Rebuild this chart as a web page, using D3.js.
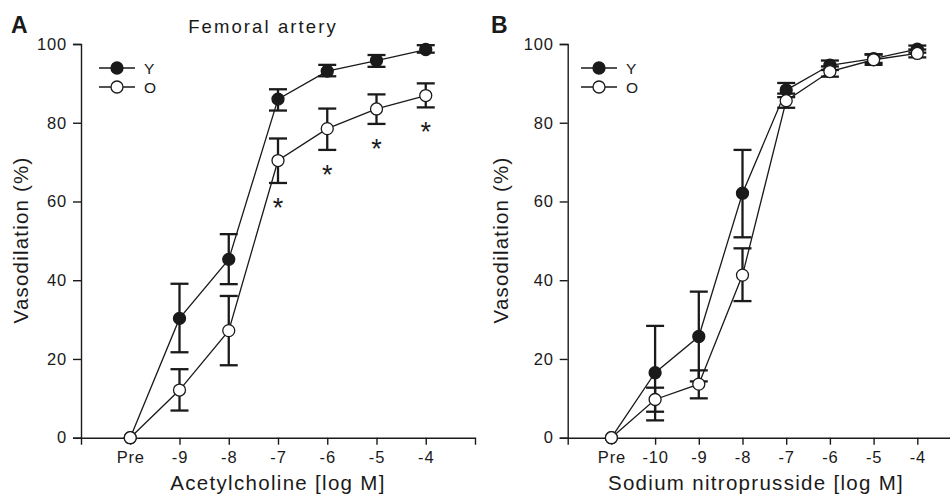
<!DOCTYPE html>
<html>
<head>
<meta charset="utf-8">
<script src="https://cdn.jsdelivr.net/npm/d3@7"></script>
<style>
  body {margin: 0; background: #fff;}
  svg {display: block; font-family: 'Liberation Sans', Arial, sans-serif;}
</style>
</head>
<body>
<script>
// Acetylcholine (panel A)
const achLabels = ['Pre', '-9', '-8', '-7', '-6', '-5', '-4']
const achYoung = [0, 30.3, 45.3, 86.0, 93.1, 95.8, 98.6]
const achYoungHi = [null, 39.1, 51.7, 88.5, 94.7, 97.2, 99.7]
const achYoungLo = [null, 21.7, 39.0, 83.1, 91.8, 94.2, 97.8]
const achOld = [0, 12.1, 27.2, 70.4, 78.5, 83.5, 86.9]
const achOldHi = [null, 17.4, 36.0, 76.0, 83.6, 87.2, 90.0]
const achOldLo = [null, 6.9, 18.4, 64.7, 73.1, 79.7, 83.9]
const achSig = [false, false, false, true, true, true, true]

// Sodium nitroprusside (panel B)
const snpLabels = ['Pre', '-10', '-9', '-8', '-7', '-6', '-5', '-4']
const snpYoung = [0, 16.5, 25.7, 62.1, 88.3, 94.6, 96.3, 98.7]
const snpYoungHi = [null, 28.4, 37.1, 73.1, 90.1, 95.8, 97.4, 99.6]
const snpYoungLo = [null, 4.4, 14.3, 50.9, 86.5, 93.4, 95.2, 97.8]
const snpOld = [0, 9.7, 13.6, 41.3, 85.6, 93.0, 96.0, 97.6]
const snpOldHi = [null, 12.7, 17.1, 48.1, 87.4, 94.3, 97.3, 98.6]
const snpOldLo = [null, 6.6, 10.0, 34.7, 83.8, 91.7, 94.7, 96.6]
const snpSig = [false, false, false, false, false, false, false, false]

const yTicks = [0, 20, 40, 60, 80, 100]
const seriesNames = ['Y', 'O']

const svg = d3.select('body').append('svg')
  .attr('width', 950).attr('height', 494)

const plotTop = 44, plotBottom = 437.7
const ink = '#1a1a1a'

function panel(o) {
  const g = svg.append('g')
  const n = o.labels.length
  const x = d3.scaleLinear().domain([-1, n]).range([o.left, o.right])
  const y = d3.scaleLinear().domain([0, 100]).range([plotBottom, plotTop])

  // axes
  g.append('g').attr('transform', `translate(0,${plotBottom})`)
    .call(d3.axisBottom(x).tickValues(d3.range(n)).tickFormat(i => o.labels[i])
      .tickSizeOuter(0).tickSize(7).tickPadding(7))
  g.append('g').attr('transform', `translate(${o.left},0)`)
    .call(d3.axisLeft(y).tickValues(yTicks).tickSizeOuter(0).tickSize(8).tickPadding(6))
  g.selectAll('.domain, .tick line').attr('stroke', ink).attr('stroke-width', 1.4)
  g.selectAll('.tick text').attr('fill', ink)
    .style('font-size', '16.5px').style('letter-spacing', '0.8px')

  // titles
  g.append('text').attr('x', o.xTitleX).attr('y', 490)
    .attr('text-anchor', 'middle').style('font-size', '20.5px').style('letter-spacing', '1.3px')
    .attr('fill', ink).text(o.xTitle)
  g.append('text').attr('transform', `translate(${o.yTitleX},240) rotate(-90)`)
    .attr('text-anchor', 'middle').style('font-size', '20.5px').style('letter-spacing', '1.2px')
    .attr('fill', ink).text('Vasodilation (%)')
  g.append('text').attr('x', o.letterX).attr('y', 33)
    .style('font-size', '23px').style('font-weight', 'bold')
    .attr('fill', ink).text(o.letter)
  if (o.title) {
    g.append('text').attr('x', o.titleX).attr('y', 33).attr('text-anchor', 'middle')
      .style('font-size', '18.5px').style('letter-spacing', '2.1px')
      .attr('fill', ink).text(o.title)
  }

  const series = [
    {v: o.young, hi: o.youngHi, lo: o.youngLo, fill: ink},
    {v: o.old, hi: o.oldHi, lo: o.oldLo, fill: '#fff'}
  ]
  const line = d3.line().x((d, i) => x(i)).y(d => y(d))

  series.forEach(s => {
    g.append('path').datum(s.v).attr('d', line)
      .attr('fill', 'none').attr('stroke', ink).attr('stroke-width', 1.3)
  })
  // error bars
  series.forEach(s => {
    const eb = g.append('g').attr('stroke', ink).attr('stroke-width', 2.3)
    s.v.forEach((d, i) => {
      if (s.hi[i] == null) return
      eb.append('line').attr('x1', x(i)).attr('x2', x(i)).attr('y1', y(s.hi[i])).attr('y2', y(s.lo[i]))
      eb.append('line').attr('x1', x(i) - 9).attr('x2', x(i) + 9).attr('y1', y(s.hi[i])).attr('y2', y(s.hi[i]))
      eb.append('line').attr('x1', x(i) - 9).attr('x2', x(i) + 9).attr('y1', y(s.lo[i])).attr('y2', y(s.lo[i]))
    })
  })
  series.forEach(s => {
    g.append('g').selectAll('circle').data(s.v).enter().append('circle')
      .attr('cx', (d, i) => x(i)).attr('cy', d => y(d)).attr('r', 6)
      .attr('fill', s.fill).attr('stroke', ink).attr('stroke-width', 1.3)
  })

  // significance marks under the old group's error bar
  o.sig.forEach((s, i) => {
    if (!s) return
    g.append('text').attr('x', x(i)).attr('y', y(o.oldLo[i]) + 34)
      .attr('text-anchor', 'middle').style('font-size', '27px').attr('fill', ink).text('*')
  })

  // legend
  seriesNames.forEach((name, k) => {
    const ly = 68 + k * 19
    g.append('line').attr('x1', o.legendX).attr('x2', o.legendX + 36).attr('y1', ly).attr('y2', ly)
      .attr('stroke', ink).attr('stroke-width', 1.3)
    g.append('circle').attr('cx', o.legendX + 18).attr('cy', ly).attr('r', 6)
      .attr('fill', series[k].fill).attr('stroke', ink).attr('stroke-width', 1.3)
    g.append('text').attr('x', o.legendX + 45).attr('y', ly + 5.5)
      .style('font-size', '15.5px').style('letter-spacing', '0.5px').attr('fill', ink).text(name)
  })
}

panel({
  labels: achLabels, young: achYoung, youngHi: achYoungHi, youngLo: achYoungLo,
  old: achOld, oldHi: achOldHi, oldLo: achOldLo, sig: achSig,
  left: 81, right: 475, xTitle: 'Acetylcholine [log M]', xTitleX: 278,
  yTitleX: 28, letter: 'A', letterX: 11, title: 'Femoral artery', titleX: 263, legendX: 99
})
panel({
  labels: snpLabels, young: snpYoung, youngHi: snpYoungHi, youngLo: snpYoungLo,
  old: snpOld, oldHi: snpOldHi, oldLo: snpOldLo, sig: snpSig,
  left: 567.7, right: 961, xTitle: 'Sodium nitroprusside [log M]', xTitleX: 756,
  yTitleX: 508, letter: 'B', letterX: 491, title: null, legendX: 581
})
</script>
</body>
</html>
